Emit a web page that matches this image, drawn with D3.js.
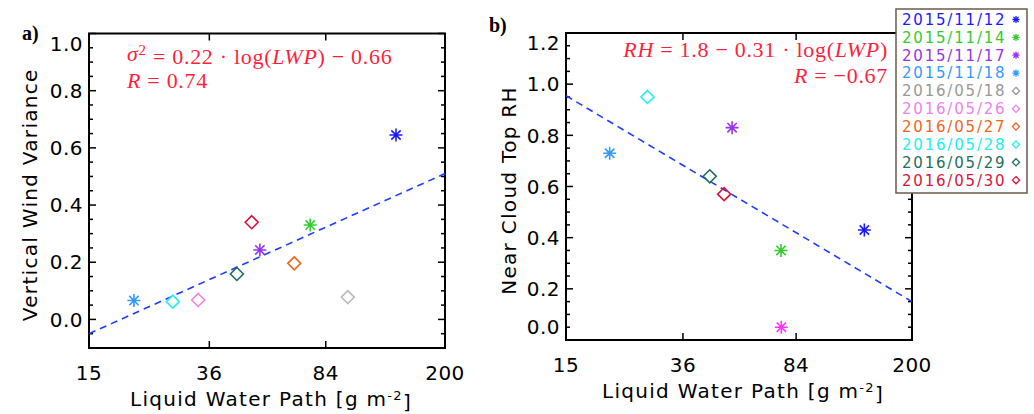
<!DOCTYPE html>
<html lang="en">
<head>
<meta charset="UTF-8">
<title>LWP scatter</title>
<script src="https://cdn.jsdelivr.net/npm/d3@7"></script>
<style>
  body { margin: 0; background: #fff; }
  .tick-label, .axis-title, .legend-text { font-family: "DejaVu Sans", sans-serif; fill: #000; }
  .tick-label { font-size: 20px; letter-spacing: 0.5px; }
  .axis-title { font-size: 20px; letter-spacing: 1.3px; }
  .legend-text { font-size: 15px; letter-spacing: 1.8px; }
  .fit { fill: none; stroke: #1f3cff; stroke-width: 1.6px; stroke-dasharray: 7,5; }
  .formula { font-family: "Liberation Serif", serif; font-size: 22px; letter-spacing: 0.7px; fill: #ff1f3d; }
</style>
</head>
<body>
<script>
// cases (one per day), legend order
var dates = ["2015/11/12", "2015/11/14", "2015/11/17", "2015/11/18", "2016/05/18",
             "2016/05/26", "2016/05/27", "2016/05/28", "2016/05/29", "2016/05/30"];
var colors = ["#1a1aff", "#33cc33", "#9933ee", "#3399ff", "#999999",
              "#ee82ee", "#ee6622", "#22f0f0", "#1f6f5f", "#dc143c"];
var markers = ["star", "star", "star", "star", "diamond",
               "diamond", "diamond", "diamond", "diamond", "diamond"];

// liquid water path [g m-2]
var lwp = [140, 75, 52, 20.8, 98.6, 33.2, 66.8, 27.6, 44, 49];
// panel a) vertical wind variance
var variance = [0.645, 0.33, 0.243, 0.066, 0.078, 0.068, 0.196, 0.062, 0.159, 0.34];
// panel b) near cloud top RH (no value for some days)
var rh = [0.43, 0.35, 0.83, 0.73, null, null, null, 0.95, 0.64, 0.57];
// extra magenta point in panel b)
var extraLwp = [75.2], extraRh = [0.05];

// fitted lines, read at the x-axis ends
var fitA = [[15, -0.05], [200, 0.51]];
var fitB = [[15, 0.955], [200, 0.15]];

var xTicks = [15, 36, 84, 200];
var yTicksA = [0, 0.2, 0.4, 0.6, 0.8, 1.0];
var yTicksB = [0, 0.2, 0.4, 0.6, 0.8, 1.0, 1.2];

var svg = d3.select("body").append("svg")
    .attr("width", 1034).attr("height", 414);

function symbolPath(type, r) {
    if (type == "diamond") {
        return "M0," + (-r) + "L" + r + ",0L0," + r + "L" + (-r) + ",0Z";
    }
    var d = r * 0.72;
    return "M" + (-r) + ",0L" + r + ",0M0," + (-r) + "L0," + r +
           "M" + (-d) + "," + (-d) + "L" + d + "," + d +
           "M" + (-d) + "," + d + "L" + d + "," + (-d);
}

function panel(opt) {
    var x = d3.scaleLog().domain([15, 200]).range([opt.left, opt.right]);
    var y = d3.scaleLinear().domain(opt.ydomain).range([opt.bottom, opt.top]);
    var g = svg.append("g");

    // minor y ticks every 0.05
    var minor = d3.range(Math.round(opt.ydomain[0] * 20), Math.round(opt.ydomain[1] * 20) + 1)
        .map(function(i) { return i / 20; });
    minor.forEach(function(v) {
        var major = Math.abs(v * 5 - Math.round(v * 5)) < 1e-6;
        var len = major ? 7 : 4;
        g.append("line").attr("x1", opt.left).attr("x2", opt.left + len)
            .attr("y1", y(v)).attr("y2", y(v)).attr("stroke", "#000").attr("stroke-width", 1.5);
        g.append("line").attr("x1", opt.right).attr("x2", opt.right - len)
            .attr("y1", y(v)).attr("y2", y(v)).attr("stroke", "#000").attr("stroke-width", 1.5);
    });
    xTicks.slice(1, -1).forEach(function(v) {
        g.append("line").attr("x1", x(v)).attr("x2", x(v))
            .attr("y1", opt.bottom).attr("y2", opt.bottom - 7).attr("stroke", "#000").attr("stroke-width", 1.5);
        g.append("line").attr("x1", x(v)).attr("x2", x(v))
            .attr("y1", opt.top).attr("y2", opt.top + 7).attr("stroke", "#000").attr("stroke-width", 1.5);
    });

    g.append("rect").attr("x", opt.left).attr("y", opt.top)
        .attr("width", opt.right - opt.left).attr("height", opt.bottom - opt.top)
        .attr("fill", "none").attr("stroke", "#000").attr("stroke-width", 2);

    // tick labels
    opt.yticks.forEach(function(v) {
        var yy = y(v);
        if (yy - opt.top < 8) yy = opt.top + 10;
        if (opt.bottom - yy < 8) yy = opt.bottom - 13;
        g.append("text").attr("class", "tick-label")
            .attr("x", opt.left - 6).attr("y", yy).attr("dy", "0.36em")
            .attr("text-anchor", "end")
            .text(v.toFixed(1));
    });
    xTicks.forEach(function(v) {
        g.append("text").attr("class", "tick-label")
            .attr("x", x(v)).attr("y", opt.bottom + 25).attr("dy", "0.36em")
            .attr("text-anchor", "middle")
            .text(v);
    });

    // axis titles
    var xt = g.append("text").attr("class", "axis-title")
        .attr("x", (opt.left + opt.right) / 2 + 4).attr("y", opt.bottom + 51).attr("dy", "0.36em")
        .attr("text-anchor", "middle");
    xt.append("tspan").text("Liquid Water Path [g m");
    xt.append("tspan").attr("dy", "-0.45em").style("font-size", "13px").text("-2");
    xt.append("tspan").attr("dy", "0.45em").text("]");

    g.append("text").attr("class", "axis-title")
        .attr("transform", "translate(" + opt.ytitleX + "," + ((opt.top + opt.bottom) / 2 + 4) + ") rotate(-90)")
        .attr("dy", "0.36em").attr("text-anchor", "middle")
        .text(opt.ytitle);

    g.append("text").attr("x", opt.labelX).attr("y", opt.labelY)
        .style("font-family", "Liberation Serif, serif").style("font-weight", "bold")
        .style("font-size", "20px").text(opt.label);

    // fit line
    g.append("path").datum(opt.fit).attr("class", "fit")
        .attr("d", d3.line().x(function(d) { return x(d[0]); }).y(function(d) { return y(d[1]); }));

    // points
    opt.values.forEach(function(v, i) {
        if (v == null) return;
        g.append("path").attr("d", symbolPath(markers[i], 6.5))
            .attr("transform", "translate(" + x(lwp[i]) + "," + y(v) + ")")
            .attr("fill", "none").attr("stroke", opt.pointColor(i)).attr("stroke-width", 1.6);
    });
    (opt.extra || []).forEach(function(p) {
        g.append("path").attr("d", symbolPath("star", 6.5))
            .attr("transform", "translate(" + x(p[0]) + "," + y(p[1]) + ")")
            .attr("fill", "none").attr("stroke", "#ff33ff").attr("stroke-width", 1.6);
    });

    return { x: x, y: y, g: g };
}

var pa = panel({
    left: 89, right: 445, top: 33.5, bottom: 348, ydomain: [-0.1, 1.0], yticks: yTicksA,
    ytitle: "Vertical Wind Variance", ytitleX: 30, label: "a)", labelX: 22, labelY: 40,
    fit: fitA, values: variance,
    pointColor: function(i) { return i == 4 ? "#bbbbbb" : colors[i]; }
});
var pb = panel({
    left: 566, right: 912, top: 33, bottom: 340, ydomain: [0, 1.2], yticks: yTicksB,
    ytitle: "Near Cloud Top RH", ytitleX: 509, label: "b)", labelX: 489, labelY: 32,
    fit: fitB, values: rh, extra: d3.zip(extraLwp, extraRh),
    pointColor: function(i) { return colors[i]; }
});

// formulas
var f1 = svg.append("text").attr("class", "formula").attr("x", 127).attr("y", 61);
f1.append("tspan").style("font-style", "italic").text("σ");
f1.append("tspan").attr("dy", "-0.4em").style("font-size", "15px").text("2");
f1.append("tspan").attr("dy", "0.4em").text(" =  0.22 · log(");
f1.append("tspan").style("font-style", "italic").text("LWP");
f1.append("tspan").text(") − 0.66");
var f2 = svg.append("text").attr("class", "formula").attr("x", 127).attr("y", 88);
f2.append("tspan").style("font-style", "italic").text("R");
f2.append("tspan").text(" = 0.74");

var f3 = svg.append("text").attr("class", "formula").attr("x", 888).attr("y", 57)
    .attr("text-anchor", "end");
f3.append("tspan").style("font-style", "italic").text("RH");
f3.append("tspan").text(" =  1.8 − 0.31 · log(");
f3.append("tspan").style("font-style", "italic").text("LWP");
f3.append("tspan").text(")");
var f4 = svg.append("text").attr("class", "formula").attr("x", 888).attr("y", 83)
    .attr("text-anchor", "end");
f4.append("tspan").style("font-style", "italic").text("R");
f4.append("tspan").text(" = −0.67");

// legend
var lg = svg.append("g");
lg.append("rect").attr("x", 896).attr("y", 9).attr("width", 131).attr("height", 184)
    .attr("fill", "#fff").attr("stroke", "#6b5a4a").attr("stroke-width", 1.5);
dates.forEach(function(d, i) {
    var yy = 19.5 + i * 17.85;
    lg.append("text").attr("class", "legend-text").attr("x", 902).attr("y", yy)
        .attr("dy", "0.36em").style("fill", colors[i]).text(d);
    lg.append("path").attr("d", symbolPath(markers[i], 3.6))
        .attr("transform", "translate(1016," + yy + ")")
        .attr("fill", "none").attr("stroke", colors[i]).attr("stroke-width", 1.3);
});
</script>
</body>
</html>
